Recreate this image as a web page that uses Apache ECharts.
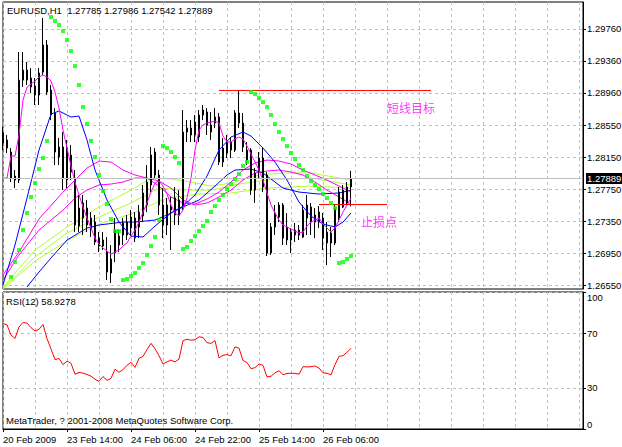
<!DOCTYPE html>
<html><head><meta charset="utf-8">
<script src="https://cdn.jsdelivr.net/npm/echarts@6/dist/echarts.min.js"></script>
<style>html,body{margin:0;padding:0;background:#fff}#c{width:622px;height:447px}</style>
</head><body><div id="c"></div>
<script>
// ---------- data ----------
const symbolName = 'EURUSD,H1';
const copyrightText = 'MetaTrader, ? 2001-2008 MetaQuotes Software Corp.';
const timeLabels = ['20 Feb 2009','23 Feb 14:00','24 Feb 06:00','24 Feb 22:00','25 Feb 14:00','26 Feb 06:00'];
const priceTicks = [1.2655,1.2695,1.2735,1.2775,1.2815,1.2855,1.2896,1.2936,1.2976];
const rsiTicks = [0,30,70,100];

const open = [1.28459,1.28371,1.28221,1.27921,1.27871,1.29121,1.29246,1.29146,1.29046,1.28934,
1.29221,1.29559,1.28996,1.28709,1.28159,1.28284,1.27871,1.28184,1.27896,1.27296,
1.27396,1.27521,1.27396,1.27346,1.27146,1.27046,1.26971,1.26709,1.26959,1.27171,
1.27184,1.27346,1.27271,1.27396,1.27284,1.27421,1.27559,1.27809,1.28221,1.27934,
1.27559,1.27309,1.27496,1.27646,1.27434,1.27559,1.28471,1.28521,1.28596,1.28409,
1.28684,1.28721,1.28471,1.28584,1.28659,1.28271,1.28209,1.28346,1.28246,1.28709,
1.28584,1.28121,1.28246,1.27746,1.27971,1.28146,1.27934,1.26959,1.27284,1.27409,
1.27559,1.27284,1.27121,1.27184,1.27246,1.27159,1.27396,1.27534,1.27346,1.27471,
1.27396,1.27221,1.27209,1.27084,1.27396,1.27746,1.27584,1.27785];
const high = [1.28534,1.28434,1.28271,1.27996,1.29471,1.29471,1.29346,1.29271,1.29146,1.29271,
1.29896,1.29621,1.29059,1.28771,1.28396,1.28471,1.28371,1.28309,1.27996,1.27684,
1.27684,1.27621,1.27471,1.27434,1.27221,1.27221,1.27159,1.27059,1.27396,1.27246,
1.27396,1.27434,1.27496,1.27471,1.27559,1.27809,1.28059,1.28284,1.28271,1.27996,
1.27771,1.27646,1.27659,1.27784,1.27746,1.28746,1.28621,1.28621,1.28684,1.28746,
1.28809,1.28771,1.28721,1.28771,1.28709,1.28396,1.28434,1.28396,1.28746,1.28996,
1.28709,1.28346,1.28271,1.28021,1.28221,1.28284,1.27971,1.27334,1.27559,1.27596,
1.27584,1.27459,1.27271,1.27334,1.27309,1.27559,1.27684,1.27584,1.27521,1.27546,
1.27459,1.27346,1.27284,1.27559,1.27784,1.27809,1.27846,1.27986];
const low = [1.28246,1.28209,1.27846,1.27771,1.27834,1.29034,1.29059,1.28959,1.28809,1.28809,
1.29184,1.28934,1.28621,1.28059,1.28059,1.27746,1.27771,1.27871,1.27221,1.27221,
1.27184,1.27221,1.27159,1.27059,1.26971,1.26996,1.26621,1.26584,1.26846,1.26971,
1.27059,1.27121,1.27184,1.27096,1.27146,1.27346,1.27471,1.27721,1.27896,1.27434,
1.27146,1.27184,1.26996,1.27309,1.27309,1.27496,1.28346,1.28346,1.28346,1.28346,
1.28621,1.28434,1.28371,1.28521,1.28059,1.28034,1.28146,1.28146,1.28221,1.28521,
1.28221,1.28059,1.27684,1.27584,1.27896,1.27721,1.26921,1.26934,1.27184,1.27346,
1.27059,1.27059,1.26959,1.27096,1.27121,1.27146,1.27184,1.27184,1.27146,1.27271,
1.26996,1.26809,1.26909,1.27059,1.27346,1.27521,1.27559,1.27542];
const close = [1.28334,1.28271,1.27896,1.27871,1.29121,1.29246,1.29121,1.29034,1.28934,1.29209,
1.29559,1.28971,1.28684,1.28221,1.28284,1.27896,1.28271,1.27971,1.27309,1.27521,
1.27584,1.27309,1.27246,1.27096,1.27046,1.27121,1.26721,1.26884,1.27246,1.27059,
1.27334,1.27184,1.27409,1.27146,1.27471,1.27709,1.27846,1.28184,1.27934,1.27559,
1.27309,1.27559,1.27534,1.27434,1.27621,1.28471,1.28521,1.28434,1.28434,1.28684,
1.28746,1.28559,1.28559,1.28659,1.28096,1.28096,1.28346,1.28246,1.28709,1.28584,
1.28284,1.28246,1.27746,1.27959,1.28146,1.27784,1.26959,1.27284,1.27459,1.27559,
1.27146,1.27121,1.27221,1.27246,1.27184,1.27496,1.27559,1.27346,1.27434,1.27346,
1.27146,1.27084,1.27084,1.27521,1.27721,1.27534,1.27784,1.27889];

const sar = [null,null,1.26659,1.26846,1.26996,1.27246,1.27459,1.27659,1.27834,1.28009,
1.28146,1.28359,1.29909,1.29859,1.29809,1.29734,1.29621,1.29484,1.29296,1.29059,
1.28784,1.28571,1.28359,1.28159,1.27934,1.27734,1.27571,1.27384,1.27234,1.27234,
1.26621,1.26634,1.26671,1.26709,1.26771,1.26834,1.26934,1.27046,1.27159,1.27371,
1.28296,1.28271,1.28221,1.28159,1.28084,1.27009,1.27034,1.27109,1.27171,1.27234,
1.27296,1.27359,1.27471,1.27546,1.27621,1.27684,1.27759,1.27821,1.27884,1.27946,
1.28046,1.28096,1.28971,1.28946,1.28896,1.28846,1.28784,1.28684,1.28571,1.28471,
1.28384,1.28296,1.28209,1.28134,1.28059,1.27996,1.27921,1.27859,1.27809,1.27759,
1.27696,1.27646,1.27584,1.27521,1.26834,1.26846,1.26884,1.26921];

const rsi = [77.0,76.0,68.5,66.1,74.5,77.8,77.3,74.0,71.5,72.8,
76.3,66.0,58.5,50.6,51.5,47.0,49.5,48.0,40.0,41.3,
40.8,39.8,38.6,36.3,34.8,38.3,35.5,37.0,43.6,41.4,
43.3,46.5,48.7,45.0,51.6,53.0,58.0,62.5,58.5,53.5,
47.5,49.0,50.3,49.0,51.0,64.5,65.5,64.8,65.2,67.3,
66.8,63.0,62.5,64.5,52.0,53.8,54.3,53.5,60.0,59.0,
50.0,48.5,44.0,44.8,47.5,46.5,38.0,38.5,41.0,42.5,
39.7,40.5,40.7,40.6,40.0,45.5,45.3,45.5,46.0,44.5,
41.0,40.7,39.6,47.0,53.0,53.5,56.0,58.9278];

const maMagentaFast = [1.27896,1.27896,1.28171,1.28171,1.28434,1.28871,1.29034,1.29071,1.29109,1.29159,
1.29184,1.29159,1.29109,1.28971,1.28771,1.28496,1.28271,1.28046,1.27846,1.27684,
1.27534,1.27396,1.27271,1.27146,1.27071,1.27021,1.26984,1.26946,1.26971,1.26996,
1.27046,1.27084,1.27171,1.27246,1.27346,1.27471,1.27584,1.27721,1.27834,1.27859,
1.27796,1.27696,1.27559,1.27459,1.27421,1.27496,1.27646,1.27896,1.28246,1.28496,
1.28559,1.28584,1.28596,1.28609,1.28584,1.28421,1.28346,1.28346,1.28384,1.28409,
1.28384,1.28296,1.28196,1.28096,1.27996,1.27871,1.27709,1.27559,1.27459,1.27371,
1.27309,1.27284,1.27259,1.27234,1.27209,1.27221,1.27296,1.27346,1.27371,1.27396,
1.27321,1.27271,1.27221,1.27271,1.27371,1.27471,1.27559,1.27646];
const maMagentaMid = [[0,1.26684],[4,1.26971],[9,1.27384],[15,1.27721],[18,1.27871],[21,1.28021],[24,1.28109],[27,1.28096],[30,1.27996],[33,1.27934],[36,1.27896],[39,1.27796],[42,1.27659],[45,1.27584],[48,1.27571],[51,1.27634],[54,1.27721],[57,1.27846],[60,1.27996],[63,1.28084],[66,1.28121],[69,1.28109],[72,1.28071],[75,1.27996],[78,1.27934],[81,1.27871],[84,1.27796],[87,1.27721]];
const maMagentaSlow = [[0,1.26621],[4,1.26934],[9,1.27246],[15,1.27496],[18,1.27646],[21,1.27746],[24,1.27809],[27,1.27821],[30,1.27846],[33,1.27896],[36,1.27896],[39,1.27859],[42,1.27771],[45,1.27621],[48,1.27559],[51,1.27584],[54,1.27659],[57,1.27746],[60,1.27871],[63,1.27959],[66,1.27984],[69,1.27996],[72,1.27971],[75,1.27934],[78,1.27846],[81,1.27746],[84,1.27659],[87,1.27571]];
const maBlueFast = [[0,1.26559],[3,1.27059],[6,1.27646],[9,1.28246],[12,1.28696],[14,1.28734],[17,1.28659],[19,1.28671],[21,1.28371],[23,1.27996],[26,1.27621],[29,1.27346],[32,1.27171],[35,1.27159],[38,1.27296],[42,1.27459],[45,1.27546],[48,1.27684],[51,1.27921],[54,1.28246],[57,1.28409],[60,1.28471],[62,1.28421],[65,1.28271],[68,1.28096],[71,1.27871],[74,1.27596],[77,1.27421],[80,1.27321],[83,1.27284],[85,1.27346],[87,1.27459]];
const maBlueSlow = [[6,1.26534],[9,1.26721],[12,1.26896],[16,1.27121],[21,1.27271],[24,1.27309],[30,1.27346],[33,1.27346],[38,1.27371],[41,1.27434],[45,1.27534],[49,1.27621],[53,1.27796],[56,1.27934],[58,1.27996],[62,1.28009],[65,1.27959],[70,1.27771],[74,1.27721],[79,1.27696],[84,1.27709],[87,1.27746]];
const maGreen1 = [[0,1.26534],[8,1.26996],[16,1.27284],[24,1.27534],[32,1.27746],[37,1.27896],[42,1.27884],[47,1.27846],[52,1.27796],[57,1.27834],[64,1.27934],[70,1.27959],[77,1.27959],[87,1.27871]];
const maGreen2 = [[0,1.26521],[8,1.26909],[16,1.27209],[24,1.27409],[32,1.27584],[39,1.27771],[46,1.27746],[52,1.27746],[59,1.27821],[66,1.27871],[77,1.27896],[87,1.27809]];
const maGreen3 = [[0,1.26509],[8,1.26859],[16,1.27109],[24,1.27321],[32,1.27446],[41,1.27646],[49,1.27696],[57,1.27709],[66,1.27771],[77,1.27796],[87,1.27771]];

const targetLine = {from: 54, to: 107, level: 1.28991};
const stopLine = {from: 79, to: 96, level: 1.27565};
const notes = [{name: '短线目标', i: 102, p: 1.28784}, {name: '止损点', i: 94, p: 1.27359}];

// ---------- chart ----------
const N_SLOTS = 146;
const slots = Array.from({length: N_SLOTS}, (_, i) => String(i));
const last = close.length - 1;
const FONT = '"Liberation Sans",Arial,sans-serif';
const FS = 9.5;
const GRID_GRAY = '#C0C0C0';
const RED = '#FF0000';
const candles = open.map((o, i) => [o, close[i], low[i], high[i]]);
const labelAt = idx => idx % 16 === 0 && idx / 16 < timeLabels.length;

const lineSeries = (data, color, z) => ({
  type: 'line', data, xAxisIndex: 0, yAxisIndex: 0, symbol: 'none', smooth: false,
  lineStyle: {color, width: 1}, itemStyle: {color}, z, silent: true, clip: false
});
const levelSeries = lv => lineSeries([[lv.from, lv.level], [lv.to, lv.level]], RED, 5);
const txt = {fontSize: FS, fontWeight: 'normal', color: '#000', fontFamily: FONT};

const chart = echarts.init(document.getElementById('c'), null, {renderer: 'svg', width: 622, height: 447});
chart.setOption({
  animation: false,
  backgroundColor: '#fff',
  title: [
    {text: `${symbolName}  ${open[last].toFixed(5)} ${high[last].toFixed(5)} ${low[last].toFixed(5)} ${close[last].toFixed(5)}`,
     left: 7, top: 5, padding: 0, textStyle: txt},
    {text: `RSI(12) ${rsi[last].toFixed(4)}`, left: 6, top: 296, padding: 0, textStyle: txt},
    {text: copyrightText, left: 6, top: 415, padding: 0, textStyle: txt}
  ],
  grid: [
    {left: 3, right: 39, top: 2, bottom: 158, show: true, borderColor: '#000', borderWidth: 1, containLabel: false, outerBoundsMode: 'none'},
    {left: 3, right: 39, top: 292, bottom: 18, show: true, borderColor: '#000', borderWidth: 1, containLabel: false, outerBoundsMode: 'none'}
  ],
  xAxis: [
    {type: 'category', gridIndex: 0, data: slots, boundaryGap: false,
     axisLine: {show: false}, axisTick: {show: false}, axisLabel: {show: false},
     splitLine: {show: true, interval: 7, lineStyle: {color: GRID_GRAY, type: [3, 3], width: 1}}},
    {type: 'category', gridIndex: 1, data: slots, boundaryGap: false,
     axisLine: {show: true, lineStyle: {color: '#000'}},
     axisTick: {show: true, length: 3, interval: labelAt, lineStyle: {color: '#000'}},
     axisLabel: {show: true, interval: labelAt, align: 'left', margin: 5, color: '#000', fontSize: FS, fontFamily: FONT,
       formatter: v => labelAt(Number(v)) ? timeLabels[Number(v) / 16] : ''},
     splitLine: {show: true, interval: 7, lineStyle: {color: GRID_GRAY, type: [3, 3], width: 1}}}
  ],
  yAxis: [
    {type: 'value', gridIndex: 0, position: 'right', min: 1.26509, max: 1.30097, scale: true,
     axisLine: {show: true, lineStyle: {color: '#000'}},
     axisTick: {show: true, length: 3, customValues: priceTicks, lineStyle: {color: '#000'}},
     axisLabel: {show: true, customValues: priceTicks, margin: 4, color: '#000', fontSize: FS, fontFamily: FONT,
       formatter: v => v.toFixed(5)},
     splitLine: {show: true, lineStyle: {color: GRID_GRAY, type: [3, 3], width: 1}}},
    {type: 'value', gridIndex: 1, position: 'right', min: 0, max: 100,
     axisLine: {show: true, lineStyle: {color: '#000'}},
     axisTick: {show: true, length: 3, customValues: rsiTicks, lineStyle: {color: '#000'}},
     axisLabel: {show: true, customValues: rsiTicks, margin: 4, color: '#000', fontSize: FS, fontFamily: FONT,
       verticalAlignMaxLabel: 'top', verticalAlignMinLabel: 'bottom'},
     splitLine: {show: true, lineStyle: {color: GRID_GRAY, type: [3, 3], width: 1}}}
  ],
  series: [
    lineSeries(maGreen3, '#ADFF2F', 2),
    lineSeries(maGreen2, '#ADFF2F', 2),
    lineSeries(maGreen1, '#ADFF2F', 2),
    lineSeries(maBlueSlow, '#0000FF', 2),
    lineSeries(maMagentaSlow, '#FF00FF', 2),
    lineSeries(maMagentaMid, '#FF00FF', 2),
    {type: 'candlestick', xAxisIndex: 0, yAxisIndex: 0, data: candles, barWidth: 2, clip: false, z: 3, silent: true,
     itemStyle: {color: '#fff', color0: '#000', borderColor: '#000', borderColor0: '#000', borderWidth: 1},
     markLine: {silent: true, symbol: 'none', animation: false, precision: 5,
       data: [
         {yAxis: close[last], lineStyle: {color: GRID_GRAY, type: 'solid', width: 1},
          label: {show: true, position: 'end', distance: 3, formatter: () => close[last].toFixed(5), color: '#fff',
                  backgroundColor: '#000', padding: [1, 1, 0, 1], fontSize: FS, fontFamily: FONT}}
       ]}},
    lineSeries(maBlueFast, '#0000FF', 4),
    lineSeries(maMagentaFast, '#FF00FF', 4),
    levelSeries(targetLine),
    levelSeries(stopLine),
    {type: 'scatter', xAxisIndex: 0, yAxisIndex: 0, data: sar, symbol: 'rect', symbolSize: 4, z: 6, silent: true,
     itemStyle: {color: '#00FF00'}},
    {type: 'scatter', xAxisIndex: 0, yAxisIndex: 0, symbolSize: 0, z: 7, silent: true,
     data: notes.map(n => ({name: n.name, value: [n.i, n.p]})),
     label: {show: true, position: 'inside', formatter: p => p.name, color: '#FF00FF', fontSize: 12,
             fontFamily: '"Noto Sans CJK SC", sans-serif'}},
    {type: 'line', xAxisIndex: 1, yAxisIndex: 1, data: rsi, symbol: 'none', silent: true,
     lineStyle: {color: RED, width: 1}}
  ]
});
</script></body></html>
